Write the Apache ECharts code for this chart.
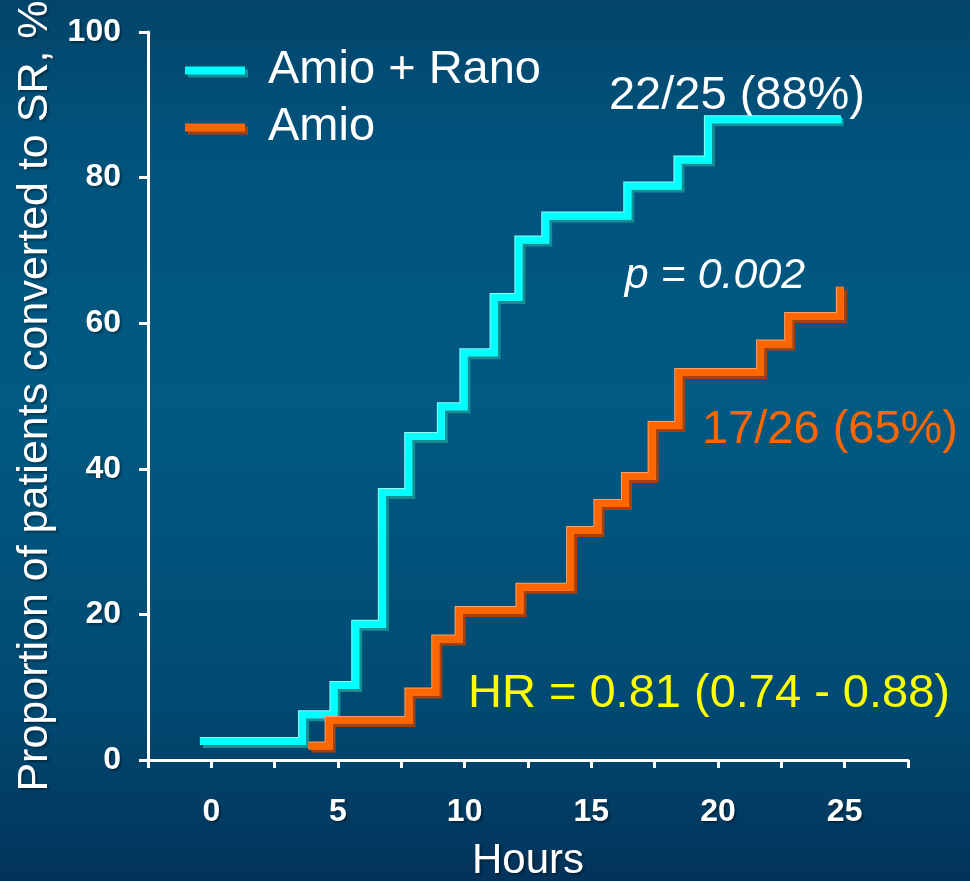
<!DOCTYPE html>
<html>
<head>
<meta charset="utf-8">
<script src="https://cdn.jsdelivr.net/npm/echarts@6/dist/echarts.min.js"></script>
<style>
  html, body { margin: 0; padding: 0; background: #014a70; }
  #chart { width: 970px; height: 881px; }
</style>
</head>
<body>
<div id="chart"></div>
<script>
// Cumulative conversion to sinus rhythm (Kaplan-Meier style steps)
const seriesNames = ['Amio + Rano', 'Amio'];

// Amio + Rano: event times (hours) and cumulative proportion (%)
const hoursRano = [-0.45, 3.58, 4.82, 5.68, 6.73, 7.77, 9.06, 9.95, 11.14, 12.12, 13.18, 16.42, 18.4, 19.6, 24.85];
const pctRano   = [2.6, 6.3, 10.3, 18.7, 36.8, 44.5, 48.6, 56.0, 63.6, 71.5, 74.8, 78.9, 82.5, 88, 88];

// Amio alone
const hoursAmio = [3.83, 4.63, 7.78, 8.84, 9.76, 12.16, 14.16, 15.24, 16.33, 17.38, 18.43, 21.66, 22.77, 24.81];
const pctAmio   = [2.0, 5.5, 9.4, 16.7, 20.6, 23.8, 31.6, 35.3, 39.0, 46.0, 53.3, 57.2, 61.0, 65];

// Responders / patients per arm
const respondersRano = [22, 25];
const respondersAmio = [17, 26];

const xTickLabels = [0, 5, 10, 15, 20, 25];
const yTickLabels = [0, 20, 40, 60, 80, 100];

const hazardText = 'HR = 0.81 (0.74 - 0.88)';
const pText = 'p = 0.002';

const FONT = '"Liberation Sans", Arial, sans-serif';
const palette = {
  rano: { main: '#00ffff', light: '#8ffcff', dark: '#148f96' },
  amio: { main: '#ff6600', light: '#ffa06a', dark: '#a8400c' }
};
// soft drop shadow used on the white text
const softShadow = { textShadowColor: 'rgba(0,0,0,0.35)', textShadowBlur: 2, textShadowOffsetX: 2, textShadowOffsetY: 2 };

const pairs = (xs, ys) => xs.map((x, i) => [x, ys[i]]);

// Each curve is drawn twice: a wider light stroke with a dark drop shadow,
// then the main colour on top, nudged by its own shadow, for a bevelled look.
function stepSeries(name, data, c) {
  return [
    {
      name, type: 'line', step: 'end', data, showSymbol: false, silent: true,
      lineStyle: { width: 8, color: c.light, cap: 'butt', join: 'miter',
        shadowColor: c.dark, shadowBlur: 0, shadowOffsetX: 3, shadowOffsetY: 3 }
    },
    {
      name, type: 'line', step: 'end', data, showSymbol: false, silent: true,
      lineStyle: { width: 6, color: c.main, cap: 'butt', join: 'miter',
        shadowColor: c.main, shadowBlur: 0, shadowOffsetX: 1, shadowOffsetY: 1 }
    }
  ];
}

const lastRano = pctRano[pctRano.length - 1];
const lastAmio = pctAmio[pctAmio.length - 1];

const chart = echarts.init(document.getElementById('chart'), null, { renderer: 'canvas' });
chart.setOption({
  animation: false,
  backgroundColor: {
    type: 'linear', x: 0, y: 0, x2: 0, y2: 1,
    colorStops: [
      { offset: 0, color: '#03446a' },
      { offset: 0.15, color: '#01527b' },
      { offset: 0.45, color: '#005a83' },
      { offset: 0.8, color: '#014a72' },
      { offset: 1, color: '#02335a' }
    ]
  },
  textStyle: { fontFamily: FONT },
  grid: { left: 148, right: 62, top: 32, bottom: 121, containLabel: false, outerBoundsMode: 'none' },
  legend: {
    orient: 'vertical', left: 180, top: 42,
    itemWidth: 60, itemHeight: 8, itemGap: 10,
    textStyle: { color: '#ffffff', fontSize: 47, fontFamily: FONT, padding: [0, 0, 0, 18] },
    data: [
      { name: seriesNames[0], icon: 'rect',
        itemStyle: { color: palette.rano.main, shadowColor: palette.rano.dark, shadowBlur: 0, shadowOffsetX: 3, shadowOffsetY: 3 } },
      { name: seriesNames[1], icon: 'rect',
        itemStyle: { color: palette.amio.main, shadowColor: palette.amio.dark, shadowBlur: 0, shadowOffsetX: 3, shadowOffsetY: 3 } }
    ]
  },
  xAxis: {
    type: 'value', min: -2.5, max: 27.5, interval: 2.5,
    name: 'Hours', nameLocation: 'middle', nameGap: 80,
    nameTextStyle: { color: '#ffffff', fontSize: 42, fontFamily: FONT, ...softShadow },
    axisLine: { onZero: false, lineStyle: { color: '#ffffff', width: 3 } },
    axisTick: { show: true, length: 8, lineStyle: { color: '#ffffff', width: 3 } },
    axisLabel: {
      color: '#ffffff', fontSize: 32, fontWeight: 'bold', fontFamily: FONT, margin: 36,
      showMinLabel: true, showMaxLabel: true, ...softShadow,
      formatter: v => (xTickLabels.includes(v) ? String(v) : '')
    },
    splitLine: { show: false }
  },
  yAxis: {
    type: 'value', min: 0, max: 100, interval: 20,
    name: 'Proportion of patients converted to SR, %', nameLocation: 'middle', nameGap: 77,
    nameRotate: 90,
    nameTextStyle: { color: '#ffffff', fontSize: 43, fontFamily: FONT, ...softShadow },
    axisLine: { show: true, onZero: false, lineStyle: { color: '#ffffff', width: 3 } },
    axisTick: { show: true, length: 9, lineStyle: { color: '#ffffff', width: 3 } },
    axisLabel: {
      color: '#ffffff', fontSize: 32, fontWeight: 'bold', fontFamily: FONT, margin: 27, ...softShadow,
      formatter: v => (yTickLabels.includes(v) ? String(v) : '')
    },
    splitLine: { show: false }
  },
  series: [
    ...stepSeries(seriesNames[0], pairs(hoursRano, pctRano), palette.rano),
    ...stepSeries(seriesNames[1], pairs(hoursAmio, pctAmio), palette.amio)
  ],
  graphic: [
    { type: 'text', x: 737, y: 96, silent: true,
      style: { text: `${respondersRano[0]}/${respondersRano[1]} (${Math.round(lastRano)}%)`,
        fill: '#ffffff', font: `47px ${FONT}`, align: 'center', verticalAlign: 'middle' } },
    { type: 'text', x: 715, y: 276, silent: true,
      style: { text: pText, fill: '#ffffff', font: `italic 43px ${FONT}`, align: 'center', verticalAlign: 'middle' } },
    { type: 'text', x: 830, y: 430, silent: true,
      style: { text: `${respondersAmio[0]}/${respondersAmio[1]} (${Math.round(lastAmio)}%)`,
        fill: palette.amio.main, font: `47px ${FONT}`, align: 'center', verticalAlign: 'middle' } },
    { type: 'text', x: 709, y: 694, silent: true,
      style: { text: hazardText, fill: '#ffff00', font: `47px ${FONT}`, align: 'center', verticalAlign: 'middle',
        shadowColor: 'rgba(0,0,0,0.85)', shadowBlur: 2, shadowOffsetX: 2, shadowOffsetY: 2 } }
  ]
});
</script>
</body>
</html>
